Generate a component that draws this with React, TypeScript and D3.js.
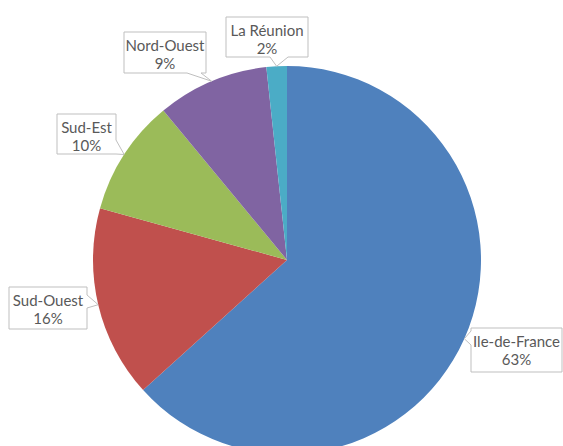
import React from "react";
import * as d3 from "d3";

const categories = ["Ile-de-France", "Sud-Ouest", "Sud-Est", "Nord-Ouest", "La Réunion"];
const values = [63.3, 16.0, 9.7, 9.3, 1.7];
const percentLabels = ["63%", "16%", "10%", "9%", "2%"];
const colors = ["#4F81BD", "#C0504D", "#9BBB59", "#8064A2", "#4BACC6"];

// callout box layout (position only)
const callouts = [
  { x: 471, y: 328, w: 91, h: 44, side: "left", base: [345, 331] },
  { x: 9, y: 287, w: 78, h: 42, side: "right", base: [295, 308] },
  { x: 57, y: 114, w: 59, h: 40, side: "right", base: [140, 154] },
  { x: 124, y: 32, w: 82, h: 41, side: "bottom", base: [201, 187] },
  { x: 226, y: 17, w: 82, h: 40, side: "bottom", base: [288, 270] },
];

const W = 563;
const H = 446;
const cx = 287;
const cy = 260;
const R = 194;

function calloutPath(c: any, tip: [number, number]) {
  const x0 = c.x, y0 = c.y, x1 = c.x + c.w, y1 = c.y + c.h;
  const pts: [number, number][] = [];
  pts.push([x0, y0]);
  if (c.side === "top") { pts.push([c.base[0], y0], tip, [c.base[1], y0]); }
  pts.push([x1, y0]);
  if (c.side === "right") { pts.push([x1, c.base[0]], tip, [x1, c.base[1]]); }
  pts.push([x1, y1]);
  if (c.side === "bottom") { pts.push([c.base[0], y1], tip, [c.base[1], y1]); }
  pts.push([x0, y1]);
  if (c.side === "left") { pts.push([x0, c.base[0]], tip, [x0, c.base[1]]); }
  return "M" + pts.map((p) => p.join(",")).join("L") + "Z";
}

export default function App() {
  const pie = d3.pie<number>().sort(null).value((d) => d).startAngle(0).endAngle(2 * Math.PI);
  const arcs = pie(values);
  const arcGen = d3.arc<d3.PieArcDatum<number>>().innerRadius(0).outerRadius(R);

  return (
    <svg width={W} height={H} style={{ position: "absolute", left: 0, top: 0 }}>
      <rect width={W} height={H} fill="#ffffff" />
      <g transform={`translate(${cx},${cy})`}>
        {arcs.map((a, i) => (
          <path key={i} d={arcGen(a) as string} fill={colors[i]} />
        ))}
      </g>
      {arcs.map((a, i) => {
        const mid = (a.startAngle + a.endAngle) / 2;
        const tip: [number, number] = [cx + R * Math.sin(mid), cy - R * Math.cos(mid)];
        const c = callouts[i];
        const tx = c.x + c.w / 2;
        return (
          <g key={"c" + i}>
            <path d={calloutPath(c, tip)} fill="#ffffff" stroke="#BFBFBF" strokeWidth={1} />
            <text x={tx} y={c.y + 13} textAnchor="middle" dominantBaseline="central"
              fontFamily="Lato, 'Open Sans', sans-serif" fontSize={15} fill="#595959">
              {categories[i]}
            </text>
            <text x={tx} y={c.y + 31} textAnchor="middle" dominantBaseline="central"
              fontFamily="Lato, 'Open Sans', sans-serif" fontSize={15} fill="#595959">
              {percentLabels[i]}
            </text>
          </g>
        );
      })}
    </svg>
  );
}
